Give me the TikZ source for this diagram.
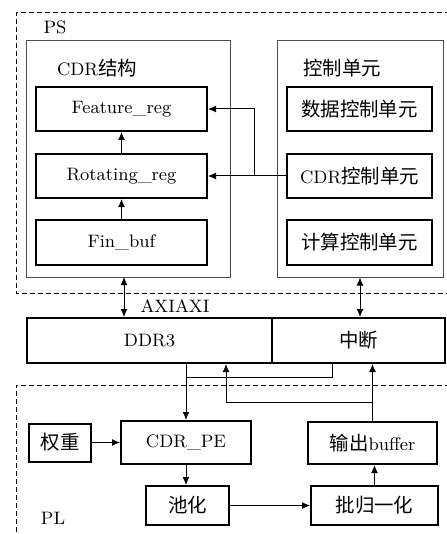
\documentclass[tikz,border=0pt]{standalone}
\usepackage{fontspec}
\newfontfamily\cjk[Scale=1.08]{Noto Sans CJK SC}
\usetikzlibrary{arrows.meta}

\begin{document}
\begin{tikzpicture}[x=0.5pt,y=-0.5pt,font=\fontsize{9}{11}\selectfont,
  blk/.style={draw,line width=1pt,minimum width=#1,inner sep=0pt},
  grp/.style={draw=black!70,line width=0.5pt,minimum height=118pt},
  bnd/.style={line width=0.5pt,dash pattern=on 2.5pt off 1.5pt},
  line/.style={line width=0.5pt},
  arr/.style={line width=0.5pt,-{Latex[length=4pt,width=3.5pt]}},
  darr/.style={line width=0.5pt,{Latex[length=4pt,width=3.5pt]}-{Latex[length=4pt,width=3.5pt]}}]
\useasboundingbox (0,0) rectangle (446,534);
% PS / PL boundaries
\draw[bnd] (450,13) -- (16,13) -- (16,293) -- (450,293);
\draw[bnd] (450,385) -- (16,385) -- (16,540);
\node (pslbl) at (55,27) {PS};
\node (pllbl) at (53,518) {PL};

\node[grp,minimum width=102pt] (cdrgrp) at (128,159) {};
\node[grp,minimum width=83pt] (ctlgrp) at (360,159) {};
\node (cdrlbl) at (97,68) {CDR{\cjk 结构}};
\node (ctllbl) at (342,68) {\cjk 控制单元};

\node[blk=85.5pt,minimum height=22pt] (feat) at (121.5,109) {Feature\_reg};
\node[blk=85.5pt,minimum height=22pt] (rot) at (121.5,176) {Rotating\_reg};
\node[blk=85.5pt,minimum height=22.5pt] (fin) at (121.5,242.5) {Fin\_buf};
\node[blk=72.5pt,minimum height=22pt] (datctl) at (359.5,109) {\cjk 数据控制单元};
\node[blk=72.5pt,minimum height=22pt] (cdrctl) at (359.5,176) {CDR{\cjk 控制单元}};
\node[blk=72.5pt,minimum height=22.5pt] (calctl) at (359.5,242.5) {\cjk 计算控制单元};

\draw[arr] (fin) -- (rot);
\draw[arr] (rot) -- (feat);
\draw[arr] (cdrctl) -- (rot);
\coordinate (j1) at (254,176);
\draw[arr] (j1) |- (feat.east);

\node[blk=122.5pt,minimum height=22.5pt] (ddr) at (149.5,340.5) {DDR3};
\node[blk=86.5pt,minimum height=22.5pt] (intr) at (358.5,340.5) {\cjk 中断};
\coordinate (a1) at (124,277);
\draw[darr] (a1) -- (a1 |- ddr.north);
\draw[darr] (ctlgrp.south) -- (ctlgrp.south |- intr.north);
\node (axi) at (175,306) {AXIAXI};

\node[blk=31pt,minimum height=19pt] (wt) at (60,442.5) {\cjk 权重};
\node[blk=65pt,minimum height=21.5pt] (pe) at (186,442.5) {CDR\_PE};
\node[blk=64.5pt,minimum height=21pt] (outbuf) at (372.5,443) {{\cjk 输出}buffer};
\node[blk=41.5pt,minimum height=19.5pt] (pool) at (187.5,505.5) {\cjk 池化};
\node[blk=63.5pt,minimum height=19.5pt] (bn) at (374.5,505.5) {\cjk 批归一化};

\draw[arr] (pe.north |- ddr.south) -- (pe.north);
\coordinate (t1) at (332,377);
\draw[line] (t1 |- intr.south) -- (t1) -- (t1 -| pe.north);
\coordinate (t2) at (226,402);
\draw[arr] (outbuf.north) -- (outbuf.north |- intr.south);
\draw[arr] (outbuf.north |- t2) -- (t2) -- (t2 |- ddr.south);

\draw[arr] (wt) -- (pe);
\draw[arr] (pe.south) -- (pe.south |- pool.north);
\draw[arr] (pool) -- (bn);
\draw[arr] (bn.north) -- (bn.north |- outbuf.south);
\end{tikzpicture}
\end{document}
